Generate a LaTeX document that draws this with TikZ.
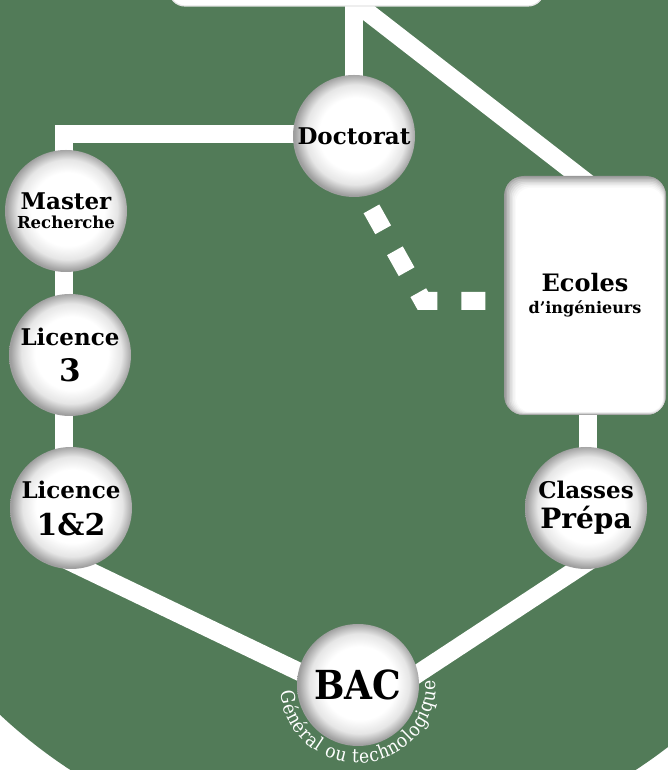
\documentclass[tikz,border=0pt]{standalone}
\usepackage{fontspec}
\setmainfont{DejaVu Serif}
\newfontfamily\condfont{DejaVu Serif Condensed}
\usetikzlibrary{decorations.text,calc}
\definecolor{bggreen}{HTML}{527B58}
\pgfdeclareradialshading{ballshade}{\pgfpoint{1bp}{1bp}}{color(0bp)=(white); color(15bp)=(white); color(20.5bp)=(black!10); color(25bp)=(black!38); color(50bp)=(black!38)}
\pgfdeclarelayer{bglayer}
\pgfdeclarelayer{linelayer}
\pgfsetlayers{bglayer,linelayer,main}
\begin{document}
\begin{tikzpicture}[x=1pt,y=1pt,
  ball/.style={circle, minimum size=122pt, inner sep=0pt, shade, shading=ballshade, align=center, font=\bfseries\fontsize{23}{27}\selectfont},
  link/.style={white, line width=18pt},
  dotlink/.style={white, line width=18pt, dash pattern=on 24pt off 24pt, line join=miter},
  topbox/.style={rectangle, rounded corners=16pt, minimum width=375pt, minimum height=52pt, fill=white, draw=black!10, line width=1.2pt},
  ecoles/.style={rectangle, rounded corners=20pt, minimum width=162pt, minimum height=239pt, inner sep=0pt, align=center, font=\bfseries\fontsize{24}{24}\selectfont, fill=black!40,
    path picture={\foreach \i/\c in {1/33,2/26,3/20,4/14,5/9,6/5,7/2,8/0}{\fill[black!\c, rounded corners=14pt] ([xshift={1.5pt*\i}, yshift={-1.5pt*\i}]path picture bounding box.north west) rectangle ([xshift={-0.4pt*\i}, yshift={0.4pt*\i}]path picture bounding box.south east);}}}
  ]
\useasboundingbox (0,0) rectangle (668,770);
\begin{pgfonlayer}{bglayer}
  \fill[white] (0,0) rectangle (668,770);
  \begin{scope}
    \clip (0,0) rectangle (668,770);
    \fill[bggreen] (353,433) circle[radius=517];
  \end{scope}
\end{pgfonlayer}

\node[topbox] (T) at (356.5,790) {};
\node[ball] (Doc) at (354,634) {Doctorat};
\node[ball] (M) at (66,559) {Master\\[-8pt]{\fontsize{16.5}{16.5}\selectfont Recherche}};
\node[ball] (L3) at (70,415) {Licence\\[9pt]{\fontsize{31}{31}\selectfont 3}};
\node[ball] (L12) at (71,262) {Licence\\[10pt]{\fontsize{30}{30}\selectfont 1\&2}};
\node[ball] (P) at (586,262) {Classes\\[3pt]{\fontsize{28}{28}\selectfont Prépa}};
\node[ball, font=\condfont\bfseries\fontsize{40}{40}\selectfont] (BAC) at (358,85) {BAC};
\node[ecoles] (E) at (585,474.5) {Ecoles\\[-2pt]{\fontsize{16}{16}\selectfont d’ingénieurs}};

\path[decorate, decoration={text along path, text color=white, text align=fit to path,
  text={|\condfont\fontsize{19}{19}\selectfont|Général ou technologique}}]
  ($(BAC.center)+(185:78)$) arc[start angle=185, end angle=363, radius=78];

\begin{pgfonlayer}{linelayer}
  \draw[link] (Doc.center) -- ([yshift=10pt]Doc.center |- T.south);
  \coordinate (dgA) at (348,773);
  \coordinate (dgB) at ($(E.north)+(5,-9)$);
  \draw[link] (dgA) -- (dgB);
  \coordinate (mk) at (64,636);
  \draw[link] (Doc.center |- mk) -- (mk) -- (mk |- L12.center);
  \draw[link] ([shift={(-15,-47)}]L12.center) -- ([yshift=-15pt]BAC.center);
  \draw[link] ([shift={(26,-38)}]P.center) -- ([yshift=-28pt]BAC.center);
  \draw[link] ([xshift=2pt]P.center) -- ([xshift=2pt]P.center |- E.center);
  \coordinate (dS) at (348,603);
  \coordinate (dC) at (423,469);
  \draw[dotlink] (dS) -- (dC) -- (E.west |- dC);
\end{pgfonlayer}
\end{tikzpicture}
\end{document}
